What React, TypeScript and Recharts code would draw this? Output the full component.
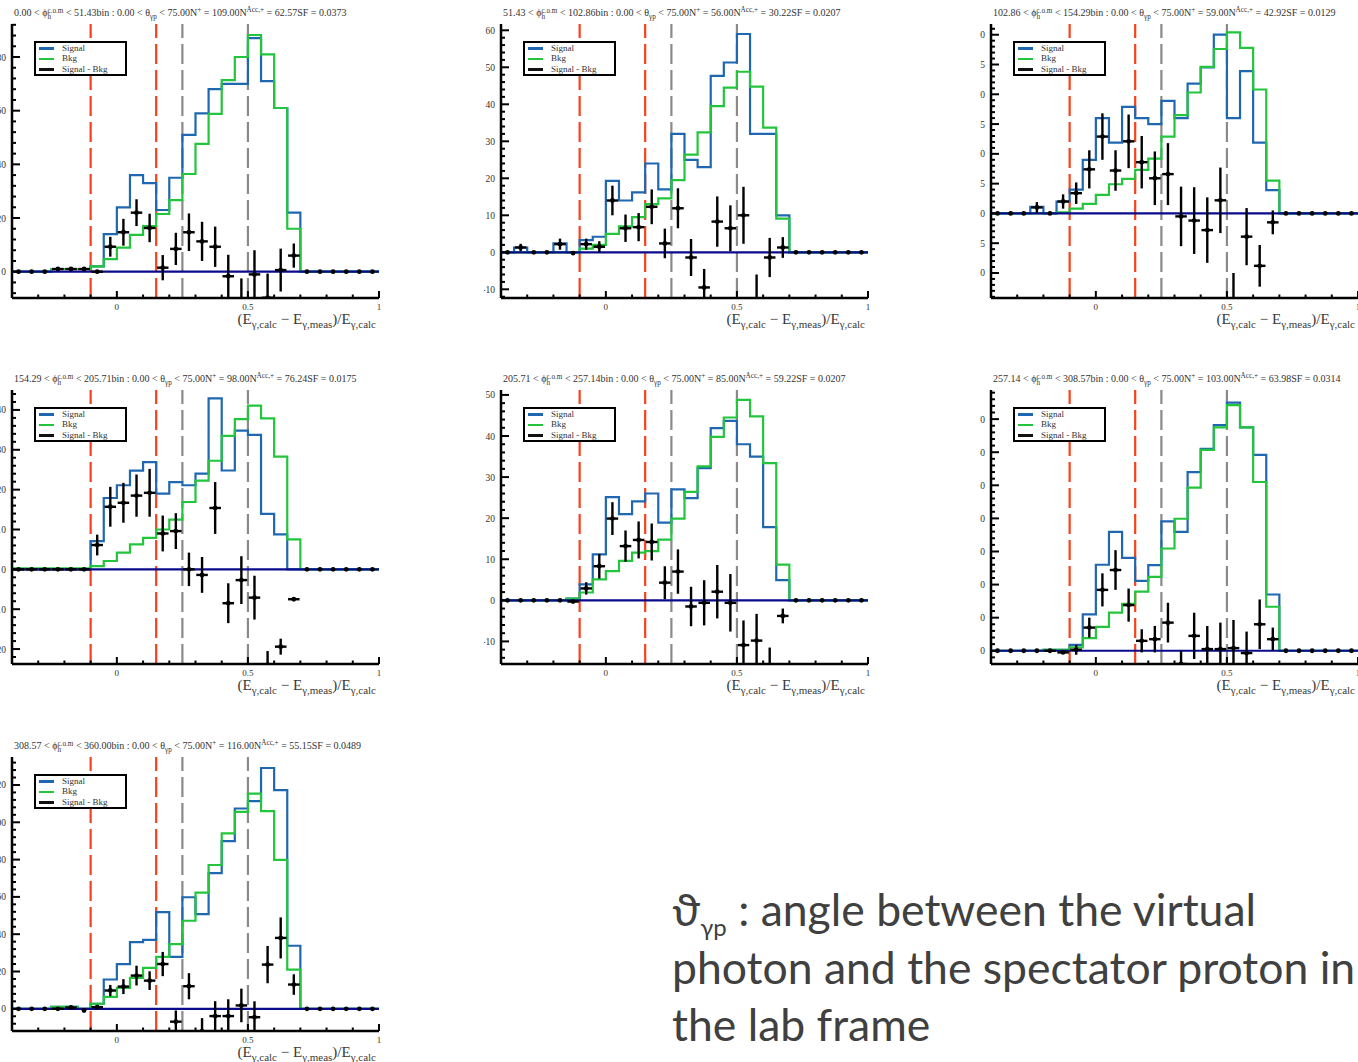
import React from "react";
import { ComposedChart, Line, Scatter, ErrorBar, XAxis, YAxis, ReferenceLine } from "recharts";

// bin edges of the (E_calc - E_meas)/E_calc histograms
const binEdges = [
  -0.4, -0.35, -0.3, -0.25, -0.2, -0.15, -0.1, -0.05, 0, 0.05, 0.1, 0.15, 0.2, 0.25, 0.3,
  0.35, 0.4, 0.45, 0.5, 0.55, 0.6, 0.65, 0.7, 0.75, 0.8, 0.85, 0.9, 0.95, 1.0,
];
const redCuts = [-0.1, 0.15];
const grayCuts = [0.25, 0.5];
const xMajor = [0, 0.5, 1];
const xMinor = [-0.3, -0.2, -0.1, 0.1, 0.2, 0.3, 0.4, 0.6, 0.7, 0.8, 0.9];

// panel 1: 0 - 51.43
const p1Signal = [0, 0, 0, 1, 1, 1, 2, 14, 24, 36, 33, 23, 35, 51, 59, 68, 70, 70, 87, 71, 61, 22, 0, 0, 0, 0, 0, 0];
const p1Bkg = [0, 0, 0, 1, 1, 1, 2, 4.7, 9, 13.7, 17, 21.5, 26.7, 36.4, 47.6, 58.8, 71.4, 80, 88.2, 81, 61, 16, 0, 0, 0, 0, 0, 0];
const p1Diff = [0, 0, 0, 1, 1, 1, 0, 9.3, 14.7, 22, 16.3, 1.5, 8.5, 14.7, 11.3, 9.3, -1.7, -10.5, -1, -9.7, 0.6, 6, 0, 0, 0, 0, 0, 0];
const p1Err = [0, 0, 0, 0.5, 0.5, 0.5, 0, 3.7, 5, 5, 5.3, 4.7, 6, 7, 7.3, 7.5, 8, 8, 9, 9, 8, 4.5, 0, 0, 0, 0, 0, 0];

// panel 2: 51.43 - 102.86
const p2Signal = [0, 1.3, 0, 0, 2.4, 0, 3.3, 4.2, 19.3, 14, 16.2, 24, 17, 32, 25, 23, 47.7, 51.3, 59, 32, 32, 10, 0, 0, 0, 0, 0, 0];
const p2Bkg = [0, 0, 0, 0, 0, 0, 1, 2, 5, 7, 9.5, 13, 14.6, 19.5, 26.4, 32.4, 39.5, 44.5, 48.8, 44.8, 33.7, 9.1, 0, 0, 0, 0, 0, 0];
const p2Diff = [0, 1.3, 0, 0, 2.2, -0.2, 2.2, 1.5, 14, 6.5, 6.8, 12.3, 2.4, 11.9, -1.4, -9.5, 8.3, 6.5, 10, -13, -1.4, 1.3, 0, 0, 0, 0, 0, 0];
const p2Err = [0, 1, 0, 0, 1.5, 0, 1.5, 1.5, 4, 3.7, 3.8, 4.7, 4, 5.4, 5, 5, 6.8, 6.2, 7.7, 7, 5.3, 2.8, 0, 0, 0, 0, 0, 0];

// panel 3: 102.86 - 154.29
const p3Signal = [0, 0, 0, 1.1, 0, 2, 4, 9, 16, 11.9, 17.9, 16, 15, 18.9, 16, 21.8, 24.5, 30, 16, 23.9, 11.9, 3.9, 0, 0, 0, 0, 0, 0];
const p3Bkg = [0, 0, 0, 0, 0, 0.2, 0.8, 1.6, 3.1, 4.9, 5.8, 7.3, 9.2, 12.9, 16.5, 20.3, 24.6, 27.6, 30.4, 27.8, 20.8, 5.5, 0, 0, 0, 0, 0, 0];
const p3Diff = [0, 0, 0, 1, 0, 2, 3.4, 7.4, 12.9, 7.2, 12.1, 8.6, 5.9, 6.6, -0.5, -1.2, -2.8, 2.2, -14.5, -3.9, -8.8, -1.5, 0, 0, 0, 0, 0, 0];
const p3Err = [0, 0, 0, 0.9, 0, 1.2, 1.8, 3.2, 3.9, 3.4, 4.5, 4.4, 4.5, 5.2, 5, 5.6, 5.5, 5.5, 4.5, 4.8, 3.5, 2, 0, 0, 0, 0, 0, 0];

// panel 4: 154.29 - 205.71
const p4Signal = [0, 0, 0, 0, 0, 0, 7.1, 17.9, 21.1, 24.75, 26.9, 19, 21.9, 21.1, 24, 42.9, 24.8, 34.8, 33.75, 13.9, 8.75, 0, 0, 0, 0, 0, 0, 0];
const p4Bkg = [0.25, 0.25, 0.25, 0.25, 0.25, 0.25, 0.8, 2.1, 4.2, 6.25, 7.9, 10, 12.5, 16.9, 22.25, 27.25, 33.5, 37.7, 41.1, 37.9, 28.3, 7.5, 0, 0, 0, 0, 0, 0];
const p4Diff = [0, 0, 0, 0, 0, 0, 6.1, 15.7, 16.7, 18.5, 19.2, 9, 9.6, 0, -1.4, 15.4, -8.5, -2.7, -7.1, -24, -19.4, -7.5, 0, 0, 0, 0, 0, 0];
const p4Err = [0, 0, 0, 0, 0, 0, 2.6, 5, 5, 5.3, 6, 4.5, 4.5, 4.2, 4.5, 6.5, 5, 6, 5.5, 3.5, 2, 0, 0, 0, 0, 0, 0, 0];

// panel 5: 205.71 - 257.14
const p5Signal = [0, 0, 0, 0, 0, 0.4, 3.9, 11.2, 25.1, 21, 24.1, 26, 18.9, 27, 24.9, 32.2, 41.9, 43.7, 38, 35, 17.8, 4.9, 0, 0, 0, 0, 0, 0];
const p5Bkg = [0, 0, 0, 0, 0, 0.4, 1.9, 5.1, 7.1, 9.6, 11.6, 12, 14.8, 19.9, 26.4, 32.6, 39.8, 44.5, 48.8, 44.8, 33.4, 8.7, 0, 0, 0, 0, 0, 0];
const p5Diff = [0, 0, 0, 0, 0, -0.3, 2.9, 8.3, 19.9, 13.2, 14.7, 14.2, 4.3, 7, -1.5, -0.6, 2.1, -0.6, -10.9, -9.8, -16, -3.8, 0, 0, 0, 0, 0, 0];
const p5Err = [0, 0, 0, 0, 0, 0, 1.5, 3, 4, 3.8, 4.5, 4.5, 4, 5.4, 4.8, 5.5, 6.5, 7, 6, 6.5, 4.5, 1.8, 0, 0, 0, 0, 0, 0];

// panel 6: 257.14 - 308.57
const p6Signal = [0, 0, 0, 0, 0.3, 0.3, 1.8, 11, 26, 35.9, 28.1, 21.1, 25.9, 39.1, 35.9, 54, 61, 68.2, 75, 67.5, 59.2, 17, 0, 0, 0, 0, 0, 0];
const p6Bkg = [0, 0, 0, 0, 0.3, 0.3, 1, 3.8, 7.2, 11.5, 14.2, 17.9, 22.3, 30.9, 39.9, 49.3, 60.7, 67.5, 74.2, 67.5, 51, 13.3, 0, 0, 0, 0, 0, 0];
const p6Diff = [0, 0, 0, 0, 0, -0.5, 0.3, 7, 18.4, 24.4, 13.8, 3, 3.5, 8.5, -4, 4.5, 0.5, 0.5, 0.8, -0.7, 8, 3.5, 0, 0, 0, 0, 0, 0];
const p6Err = [0, 0, 0, 0, 0, 0, 1.5, 3, 5, 6, 5, 3.5, 4, 6, 4, 7, 7, 8, 8.5, 6.5, 7.5, 3.5, 0, 0, 0, 0, 0, 0];

// panel 7: 308.57 - 360
const p7Signal = [0, 0, 0, 1, 1, 0, 2.7, 15.7, 24, 35.8, 37, 51.8, 27.8, 59.8, 50.8, 72.7, 89.9, 107.4, 111.3, 129.1, 117.2, 33.8, 0, 0, 0, 0, 0, 0];
const p7Bkg = [0, 0, 0, 1, 1, 0, 2.7, 6.4, 11.2, 16.6, 21.9, 27.8, 34.7, 47.2, 62.3, 77.1, 94, 105.6, 115.4, 106, 79.8, 21, 0, 0, 0, 0, 0, 0];
const p7Diff = [0, 0, 0, 0, 0.7, -0.9, 0.9, 9.8, 11.9, 17.8, 15.1, 24, -6.9, 12.1, -12, -3.9, -3.9, 1.8, -4.5, 23.7, 38, 13, 0, 0, 0, 0, 0, 0];
const p7Err = [0, 0, 0, 0, 0.5, 0.5, 1, 3, 4, 5.3, 5, 6.5, 6, 7, 7, 8, 9, 9, 8.5, 10, 11, 5.5, 0, 0, 0, 0, 0, 0];

const panels = [
  { lo: "0.00", hi: "51.43", n: "109.00", acc: "62.57", sf: "0.0373", yDomain: [-9.8, 92.3], yMajor: [0, 20, 40, 60, 80], yStep: 4, signal: p1Signal, bkg: p1Bkg, diff: p1Diff, err: p1Err },
  { lo: "51.43", hi: "102.86", n: "56.00", acc: "30.22", sf: "0.0207", yDomain: [-12.35, 61.7], yMajor: [-10, 0, 10, 20, 30, 40, 50, 60], yStep: 2, signal: p2Signal, bkg: p2Bkg, diff: p2Diff, err: p2Err },
  { lo: "102.86", hi: "154.29", n: "59.00", acc: "42.92", sf: "0.0129", yDomain: [-14.2, 31.8], yMajor: [-10, -5, 0, 5, 10, 15, 20, 25, 30], yStep: 1, signal: p3Signal, bkg: p3Bkg, diff: p3Diff, err: p3Err },
  { lo: "154.29", hi: "205.71", n: "98.00", acc: "76.24", sf: "0.0175", yDomain: [-23.75, 45], yMajor: [-20, -10, 0, 10, 20, 30, 40], yStep: 2, signal: p4Signal, bkg: p4Bkg, diff: p4Diff, err: p4Err },
  { lo: "205.71", hi: "257.14", n: "85.00", acc: "59.22", sf: "0.0207", yDomain: [-15.5, 51.2], yMajor: [-10, 0, 10, 20, 30, 40, 50], yStep: 2, signal: p5Signal, bkg: p5Bkg, diff: p5Diff, err: p5Err },
  { lo: "257.14", hi: "308.57", n: "103.00", acc: "63.98", sf: "0.0314", yDomain: [-4, 78.8], yMajor: [0, 10, 20, 30, 40, 50, 60, 70], yStep: 2, signal: p6Signal, bkg: p6Bkg, diff: p6Diff, err: p6Err },
  { lo: "308.57", hi: "360.00", n: "116.00", acc: "55.15", sf: "0.0489", yDomain: [-11.9, 135], yMajor: [0, 20, 40, 60, 80, 100, 120], yStep: 4, signal: p7Signal, bkg: p7Bkg, diff: p7Diff, err: p7Err },
];

const FRAME_W = 367;
const FRAME_H = 274;
const AXIS_W = 40;
const PAD_TOP = 4;
const PAD_RIGHT = 6;
const AXIS_H = 40;

const colLeft = [12, 501, 991];
const colClip = [0, 484, 980];
const colClipW = [484, 496, 378];
const rowTop = [24, 390, 757];

const SERIF = '"Liberation Serif", "DejaVu Serif", serif';
const BLUE = "#1f67b1";
const GREEN = "#22c53c";
const RED = "#f8401a";
const GRAY = "#8a8a8a";
const NAVY = "#0a0a8c";

const near = (a: number, list: number[]) => list.some((m) => Math.abs(m - a) < 1e-6);

function makeYTicks(domain: number[], step: number) {
  const out: number[] = [];
  for (let v = Math.ceil(domain[0] / step) * step; v <= domain[1]; v += step) out.push(Math.round(v * 1000) / 1000);
  return out;
}

const YTick = (major: number[], side: "left" | "right") => (props: any) => {
  const { x, y, payload } = props;
  const isMajor = near(payload.value, major);
  const len = isMajor ? 8 : 4;
  const dir = side === "left" ? 1 : -1;
  return (
    <g>
      <line x1={x} x2={x + dir * len} y1={y} y2={y} stroke="#000" strokeWidth={2} />
      {side === "left" && isMajor && (
        <text x={x - 6} y={y} dy={3.5} textAnchor="end" fontSize={9.5} fill="#333" fontFamily={SERIF}>
          {payload.value}
        </text>
      )}
    </g>
  );
};

const XTick = (side: "bottom" | "top") => (props: any) => {
  const { x, y, payload } = props;
  const isMajor = near(payload.value, xMajor);
  const len = isMajor ? 7 : 3.5;
  const dir = side === "bottom" ? -1 : 1;
  return (
    <g>
      <line x1={x} x2={x} y1={y} y2={y + dir * len} stroke="#000" strokeWidth={2} />
      {side === "bottom" && isMajor && (
        <text x={x} y={y + 12} textAnchor="middle" fontSize={9} fill="#333" fontFamily={SERIF}>
          {payload.value}
        </text>
      )}
    </g>
  );
};

const Dot = (props: any) => <circle cx={props.cx} cy={props.cy} r={2.4} fill="#000" />;

function Title({ p }: { p: any }) {
  const small = { fontSize: "0.72em" };
  return (
    <div style={{ fontFamily: SERIF, fontSize: 10, color: "#333", whiteSpace: "nowrap", lineHeight: "12px" }}>
      {p.lo} &lt; ϕ
      <span style={{ display: "inline-flex", flexDirection: "column", verticalAlign: "middle", lineHeight: 0.9, ...small }}>
        <span>c.o.m</span>
        <span>h</span>
      </span>{" "}
      &lt; {p.hi}bin : 0.00 &lt; θ<sub style={small}>γp</sub> &lt; 75.00N<sup style={small}>+</sup> = {p.n}N
      <sup style={small}>Acc,+</sup> = {p.acc}SF = {p.sf}
    </div>
  );
}

function Legend() {
  const rows = [
    { label: "Signal", color: BLUE },
    { label: "Bkg", color: GREEN },
    { label: "Signal - Bkg", color: "#111" },
  ];
  return (
    <div
      style={{
        width: 89,
        height: 31,
        border: "2px solid #000",
        background: "#fff",
        fontFamily: SERIF,
        fontSize: 9,
        color: "#333",
        lineHeight: "11px",
        padding: "0",
      }}
    >
      {rows.map((r) => (
        <div key={r.label} style={{ display: "flex", alignItems: "center", height: 10.5 }}>
          <div style={{ width: 15, height: 2.5, background: r.color, marginLeft: 3, marginRight: 8 }} />
          <span>{r.label}</span>
        </div>
      ))}
    </div>
  );
}

function Panel({ p, col, row, idx }: { p: any; col: number; row: number; idx: number }) {
  const frameLeft = colLeft[col] - colClip[col];
  const stepData = binEdges.map((x, i) => ({ x, sig: p.signal[Math.min(i, 27)], bkg: p.bkg[Math.min(i, 27)] }));
  const points = binEdges.slice(0, 28).map((e, i) => ({
    x: (e + binEdges[i + 1]) / 2,
    y: p.diff[i],
    ey: p.err[i],
    ex: p.signal[i] !== 0 || p.bkg[i] !== 0 ? 0.022 : 0,
  }));
  const yTicks = makeYTicks(p.yDomain, p.yStep);
  const xTicks = [...xMinor, ...xMajor].sort((a, b) => a - b);
  const clipId = `plotclip${idx}`;
  return (
    <div
      className={`pw${idx}`}
      style={{
        position: "absolute",
        left: colClip[col],
        top: rowTop[row] - 24,
        width: colClipW[col],
        height: 340,
        overflow: "hidden",
      }}
    >
      <style>{`.pw${idx} .recharts-scatter, .pw${idx} .recharts-errorBar { clip-path: url(#${clipId}); }`}</style>
      <div style={{ position: "absolute", left: frameLeft + 2, top: 4 }}>
        <Title p={p} />
      </div>
      <div style={{ position: "absolute", left: frameLeft - AXIS_W, top: 24 - PAD_TOP }}>
        <ComposedChart
          width={AXIS_W + FRAME_W + PAD_RIGHT}
          height={PAD_TOP + FRAME_H + AXIS_H}
          margin={{ top: PAD_TOP, right: PAD_RIGHT, bottom: 0, left: 0 }}
        >
          <defs>
            <clipPath id={clipId}>
              <rect x={AXIS_W} y={PAD_TOP} width={FRAME_W} height={FRAME_H} />
            </clipPath>
          </defs>
          <XAxis
            xAxisId="b"
            dataKey="x"
            type="number"
            domain={[-0.4, 1]}
            allowDataOverflow
            ticks={xTicks}
            interval={0}
            tickSize={0}
            tickMargin={0}
            tickLine={false}
            height={AXIS_H}
            axisLine={{ stroke: "#000", strokeWidth: 2.5 }}
            tick={XTick("bottom")}
          />
          <XAxis
            xAxisId="t"
            orientation="top"
            type="number"
            domain={[-0.4, 1]}
            allowDataOverflow
            ticks={xTicks}
            interval={0}
            tickSize={0}
            tickMargin={0}
            tickLine={false}
            height={0}
            axisLine={{ stroke: "#000", strokeWidth: 2.5 }}
            tick={XTick("top")}
          />
          <YAxis
            yAxisId="l"
            type="number"
            domain={p.yDomain}
            allowDataOverflow
            ticks={yTicks}
            interval={0}
            tickSize={0}
            tickMargin={0}
            tickLine={false}
            width={AXIS_W}
            axisLine={{ stroke: "#000", strokeWidth: 2.5 }}
            tick={YTick(p.yMajor, "left")}
          />
          <YAxis
            yAxisId="r"
            orientation="right"
            type="number"
            domain={p.yDomain}
            allowDataOverflow
            ticks={yTicks}
            interval={0}
            tickSize={0}
            tickMargin={0}
            tickLine={false}
            width={0}
            axisLine={{ stroke: "#000", strokeWidth: 2.5 }}
            tick={YTick(p.yMajor, "right")}
          />
          {redCuts.map((c) => (
            <ReferenceLine key={"r" + c} xAxisId="b" yAxisId="l" x={c} stroke={RED} strokeWidth={2.2} strokeDasharray="20 6" />
          ))}
          {grayCuts.map((c) => (
            <ReferenceLine key={"g" + c} xAxisId="b" yAxisId="l" x={c} stroke={GRAY} strokeWidth={2.2} strokeDasharray="20 6" />
          ))}
          <Line
            xAxisId="b"
            yAxisId="l"
            data={stepData}
            dataKey="sig"
            type="stepAfter"
            stroke={BLUE}
            strokeWidth={2.2}
            dot={false}
            isAnimationActive={false}
          />
          <Line
            xAxisId="b"
            yAxisId="l"
            data={stepData}
            dataKey="bkg"
            type="stepAfter"
            stroke={GREEN}
            strokeWidth={2.2}
            dot={false}
            isAnimationActive={false}
          />
          <ReferenceLine xAxisId="b" yAxisId="l" y={0} stroke={NAVY} strokeWidth={2.2} />
          <Scatter xAxisId="b" yAxisId="l" data={points} dataKey="y" shape={Dot} isAnimationActive={false}>
            <ErrorBar dataKey="ey" direction="y" width={0} stroke="#000" strokeWidth={2.4} />
            <ErrorBar dataKey="ex" direction="x" width={0} stroke="#000" strokeWidth={2.4} />
          </Scatter>
        </ComposedChart>
      </div>
      <div style={{ position: "absolute", left: frameLeft + 22, top: 24 + 17 }}>
        <Legend />
      </div>
      <div
        style={{
          position: "absolute",
          right: colClipW[col] - (frameLeft + FRAME_W) + 3,
          top: 24 + FRAME_H + 13,
          fontFamily: SERIF,
          fontSize: 15,
          color: "#3a3a3a",
          whiteSpace: "nowrap",
        }}
      >
        (E<sub style={{ fontSize: 11 }}>γ,calc</sub> − E<sub style={{ fontSize: 11 }}>γ,meas</sub>)/E
        <sub style={{ fontSize: 11 }}>γ,calc</sub>
      </div>
    </div>
  );
}

export default function App() {
  const lineStyle = { height: 57.5, lineHeight: "57.5px", whiteSpace: "nowrap" as const };
  return (
    <div
      style={{
        position: "fixed",
        left: 0,
        top: 0,
        width: 1358,
        height: 1062,
        overflow: "hidden",
        background: "#fff",
      }}
    >
      {panels.map((p, i) => (
        <Panel key={i} p={p} col={i % 3} row={Math.floor(i / 3)} idx={i} />
      ))}
      <div
        style={{
          position: "absolute",
          left: 672,
          top: 880,
          fontFamily: "Lato, 'Open Sans', sans-serif",
          fontSize: 44.5,
          color: "#404040",
        }}
      >
        <div style={lineStyle}>
          ϑ<sub style={{ fontSize: 24, lineHeight: 0 }}>γp</sub> : angle between the virtual
        </div>
        <div style={lineStyle}>photon and the spectator proton in</div>
        <div style={lineStyle}>the lab frame</div>
      </div>
    </div>
  );
}
